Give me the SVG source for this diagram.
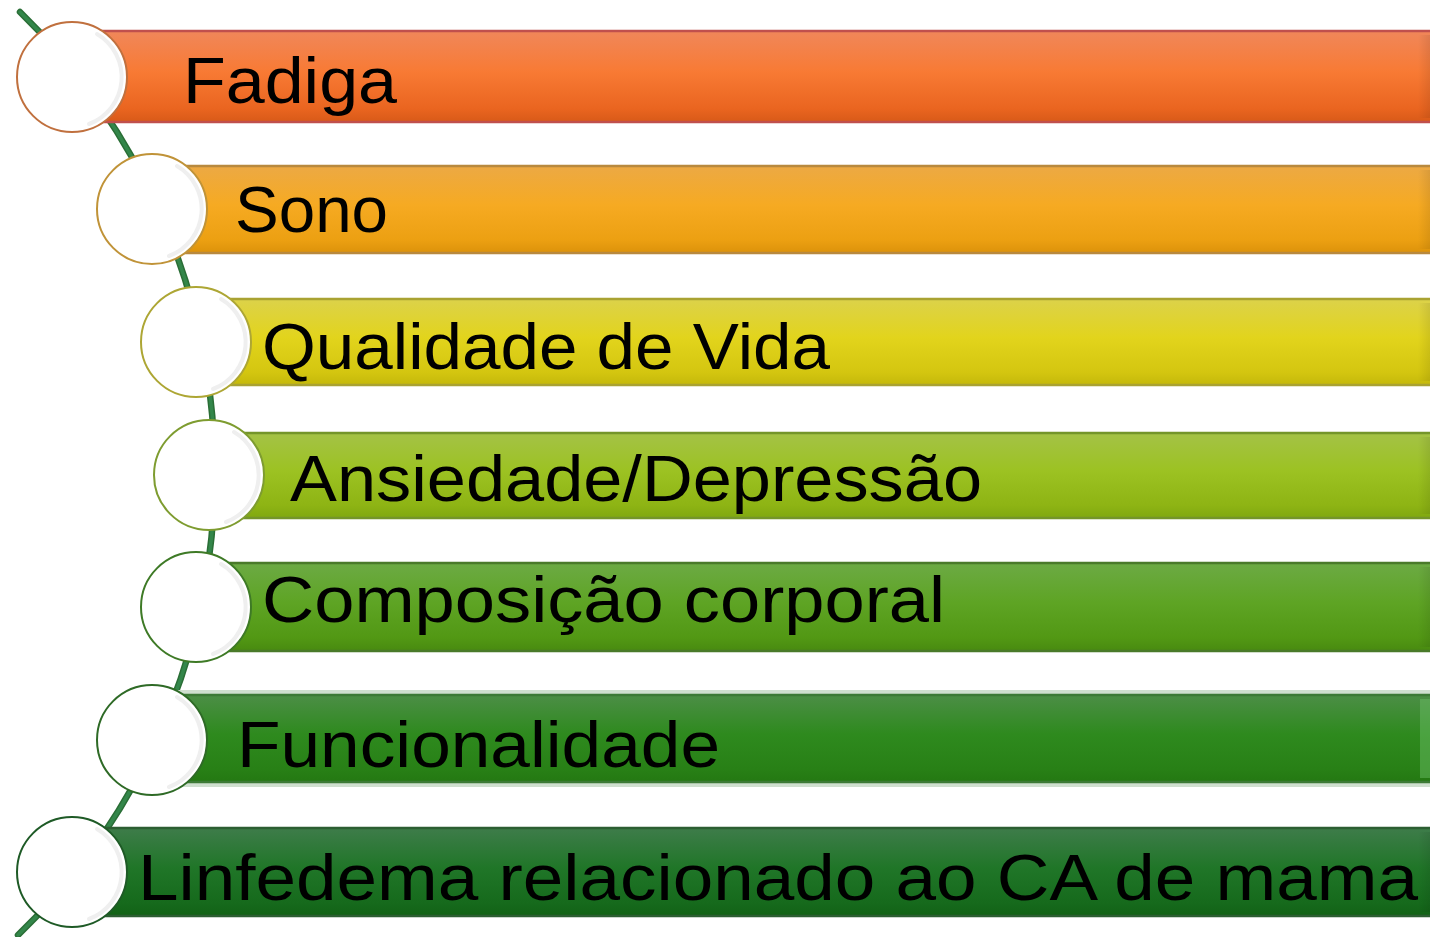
<svg xmlns="http://www.w3.org/2000/svg" width="1430" height="937" viewBox="0 0 1430 937">
<style>
.lbl{font-family:"Liberation Sans",Arial,sans-serif;font-size:65px;fill:#000}
.ring{fill:#fff;stroke-width:2}
.shade{fill:none;stroke:#efefef;stroke-width:4;stroke-linecap:round}
.bar{stroke-width:2.5}
</style>
<defs>
<linearGradient id="g1" x1="0" y1="0" x2="0" y2="1"><stop offset="0" stop-color="#f0875a"/><stop offset="0.45" stop-color="#f87a34"/><stop offset="0.85" stop-color="#ea6520"/><stop offset="1" stop-color="#d85a18"/></linearGradient>
<linearGradient id="g2" x1="0" y1="0" x2="0" y2="1"><stop offset="0" stop-color="#eca944"/><stop offset="0.45" stop-color="#f6aa22"/><stop offset="0.85" stop-color="#eca012"/><stop offset="1" stop-color="#dc920a"/></linearGradient>
<linearGradient id="g3" x1="0" y1="0" x2="0" y2="1"><stop offset="0" stop-color="#dcd24a"/><stop offset="0.45" stop-color="#e2d41c"/><stop offset="0.85" stop-color="#d4c610"/><stop offset="1" stop-color="#c4b80a"/></linearGradient>
<linearGradient id="g4" x1="0" y1="0" x2="0" y2="1"><stop offset="0" stop-color="#a4c246"/><stop offset="0.45" stop-color="#9cc222"/><stop offset="0.85" stop-color="#8eb414"/><stop offset="1" stop-color="#80a810"/></linearGradient>
<linearGradient id="g5" x1="0" y1="0" x2="0" y2="1"><stop offset="0" stop-color="#6caa44"/><stop offset="0.45" stop-color="#5ea424"/><stop offset="0.85" stop-color="#529814"/><stop offset="1" stop-color="#488a10"/></linearGradient>
<linearGradient id="g6" x1="0" y1="0" x2="0" y2="1"><stop offset="0" stop-color="#4c8e46"/><stop offset="0.45" stop-color="#2e8a1e"/><stop offset="0.85" stop-color="#288016"/><stop offset="1" stop-color="#247812"/></linearGradient>
<linearGradient id="g7" x1="0" y1="0" x2="0" y2="1"><stop offset="0" stop-color="#3e7c4a"/><stop offset="0.45" stop-color="#207628"/><stop offset="0.85" stop-color="#166a1c"/><stop offset="1" stop-color="#126216"/></linearGradient>
<linearGradient id="bev" x1="0" y1="0" x2="1" y2="0"><stop offset="0" stop-color="#000" stop-opacity="0"/><stop offset="1" stop-color="#000" stop-opacity="0.1"/></linearGradient>
</defs>

<g id="connectors">
<path d="M20 12 A642 642 0 0 1 18 935" fill="none" stroke="#2a6e36" stroke-width="6.5" stroke-linecap="round"/>
<path d="M20 12 A642 642 0 0 1 18 935" fill="none" stroke="#33864a" stroke-width="3.5" stroke-linecap="round"/>
</g>

<g id="bar-fadiga">
<rect class="bar" x="72" y="31" width="1380" height="91" fill="url(#g1)" stroke="#c0504d"/>
<rect x="1418" y="35" width="14" height="83" fill="url(#bev)"/>
<text class="lbl" x="183" y="103" textLength="214" lengthAdjust="spacingAndGlyphs">Fadiga</text>
</g>
<g id="bar-sono">
<rect class="bar" x="152" y="166" width="1300" height="87" fill="url(#g2)" stroke="#b8893e"/>
<rect x="1418" y="170" width="14" height="79" fill="url(#bev)"/>
<text class="lbl" x="235" y="232" textLength="153" lengthAdjust="spacingAndGlyphs">Sono</text>
</g>
<g id="bar-qualidade">
<rect class="bar" x="195" y="299" width="1260" height="86" fill="url(#g3)" stroke="#a9a232"/>
<rect x="1418" y="303" width="14" height="78" fill="url(#bev)"/>
<text class="lbl" x="262" y="369" textLength="568" lengthAdjust="spacingAndGlyphs">Qualidade de Vida</text>
</g>
<g id="bar-ansiedade">
<rect class="bar" x="209" y="433" width="1240" height="85" fill="url(#g4)" stroke="#74952a"/>
<rect x="1418" y="437" width="14" height="77" fill="url(#bev)"/>
<text class="lbl" x="290" y="501" textLength="692" lengthAdjust="spacingAndGlyphs">Ansiedade/Depressão</text>
</g>
<g id="bar-composicao">
<rect class="bar" x="195" y="563" width="1260" height="88" fill="url(#g5)" stroke="#4a7a2a"/>
<rect x="1418" y="567" width="14" height="80" fill="url(#bev)"/>
<text class="lbl" x="262" y="622" textLength="683" lengthAdjust="spacingAndGlyphs">Composição corporal</text>
</g>
<g id="bar-funcionalidade">
<rect x="152" y="690" width="1300" height="97" fill="#cfdfcf"/>
<rect class="bar" x="152" y="695" width="1300" height="87" fill="url(#g6)" stroke="#3c7a36"/>
<rect x="1420" y="699" width="10" height="79" fill="#6fc26a" opacity="0.45"/>
<text class="lbl" x="237" y="767" textLength="483" lengthAdjust="spacingAndGlyphs">Funcionalidade</text>
</g>
<g id="bar-linfedema">
<rect class="bar" x="72" y="828" width="1380" height="88" fill="url(#g7)" stroke="#2c5e32"/>
<rect x="1418" y="832" width="14" height="80" fill="url(#bev)"/>
<text class="lbl" x="138" y="900" textLength="1280" lengthAdjust="spacingAndGlyphs">Linfedema relacionado ao CA de mama</text>
</g>

<g id="circle-1" transform="translate(72 77)">
<circle class="ring" r="55" stroke="#c0703e"/>
<path class="shade" d="M25 -43 A50 50 0 0 1 17 47"/>
</g>
<g id="circle-2" transform="translate(152 209)">
<circle class="ring" r="55" stroke="#c09338"/>
<path class="shade" d="M25 -43 A50 50 0 0 1 17 47"/>
</g>
<g id="circle-3" transform="translate(196 342)">
<circle class="ring" r="55" stroke="#ada634"/>
<path class="shade" d="M25 -43 A50 50 0 0 1 17 47"/>
</g>
<g id="circle-4" transform="translate(209 475)">
<circle class="ring" r="55" stroke="#7e9c30"/>
<path class="shade" d="M25 -43 A50 50 0 0 1 17 47"/>
</g>
<g id="circle-5" transform="translate(196 607)">
<circle class="ring" r="55" stroke="#3e7a26"/>
<path class="shade" d="M25 -43 A50 50 0 0 1 17 47"/>
</g>
<g id="circle-6" transform="translate(152 740)">
<circle class="ring" r="55" stroke="#2e6a26"/>
<path class="shade" d="M25 -43 A50 50 0 0 1 17 47"/>
</g>
<g id="circle-7" transform="translate(72 872)">
<circle class="ring" r="55" stroke="#1e5a26"/>
<path class="shade" d="M25 -43 A50 50 0 0 1 17 47"/>
</g>
</svg>
